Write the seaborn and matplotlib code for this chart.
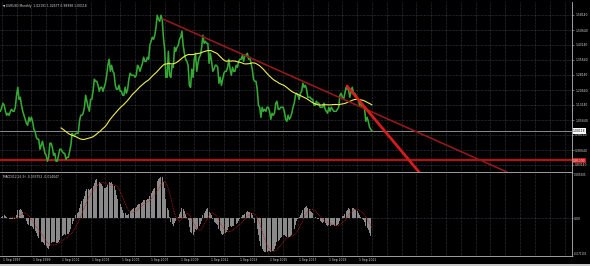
import numpy as np
import pandas as pd
import matplotlib
matplotlib.use("Agg")
import matplotlib.pyplot as plt
import matplotlib.transforms as mtransforms
from matplotlib.patches import Rectangle
import seaborn as sns

# ---------------- data (monthly closes, EURUSD) ----------------
start_month = "1997-08"
close = [
    1.10, 1.12, 1.14, 1.13, 1.10,
    1.08, 1.09, 1.08, 1.10, 1.11, 1.10, 1.10, 1.12, 1.18, 1.22, 1.16, 1.17,
    1.13, 1.10, 1.08, 1.06, 1.04, 1.03, 1.07, 1.05, 1.07, 1.05, 1.01, 1.00,
    0.97, 0.96, 0.96, 0.91, 0.93, 0.95, 0.92, 0.89, 0.88, 0.85, 0.87, 0.94,
    0.94, 0.92, 0.88, 0.89, 0.85, 0.85, 0.88, 0.91, 0.91, 0.90, 0.89, 0.89,
    0.86, 0.87, 0.87, 0.90, 0.93, 0.99, 0.98, 0.98, 0.99, 0.99, 0.99, 1.05,
    1.08, 1.08, 1.09, 1.12, 1.18, 1.15, 1.12, 1.10, 1.16, 1.16, 1.20, 1.26,
    1.25, 1.25, 1.23, 1.20, 1.22, 1.22, 1.20, 1.22, 1.24, 1.28, 1.33, 1.36,
    1.30, 1.33, 1.30, 1.29, 1.23, 1.21, 1.21, 1.23, 1.20, 1.20, 1.18, 1.18,
    1.22, 1.19, 1.21, 1.26, 1.29, 1.28, 1.28, 1.28, 1.27, 1.28, 1.33, 1.32,
    1.30, 1.32, 1.34, 1.37, 1.35, 1.35, 1.37, 1.36, 1.43, 1.45, 1.47, 1.46,
    1.48, 1.52, 1.58, 1.56, 1.55, 1.58, 1.56, 1.47, 1.41, 1.27, 1.27, 1.40,
    1.28, 1.27, 1.33, 1.32, 1.42, 1.40, 1.42, 1.43, 1.46, 1.47, 1.50, 1.43,
    1.39, 1.36, 1.35, 1.33, 1.23, 1.22, 1.31, 1.27, 1.36, 1.39, 1.30, 1.34,
    1.37, 1.38, 1.42, 1.48, 1.44, 1.45, 1.44, 1.44, 1.34, 1.39, 1.35, 1.30,
    1.31, 1.33, 1.33, 1.32, 1.24, 1.27, 1.23, 1.26, 1.29, 1.30, 1.30, 1.32,
    1.36, 1.31, 1.28, 1.32, 1.30, 1.30, 1.33, 1.32, 1.35, 1.36, 1.36, 1.38,
    1.35, 1.38, 1.38, 1.39, 1.36, 1.37, 1.34, 1.31, 1.26, 1.25, 1.25, 1.21,
    1.13, 1.12, 1.07, 1.12, 1.10, 1.11, 1.10, 1.12, 1.12, 1.10, 1.06, 1.09,
    1.08, 1.09, 1.14, 1.15, 1.11, 1.11, 1.12, 1.12, 1.12, 1.10, 1.06, 1.05,
    1.08, 1.06, 1.07, 1.09, 1.12, 1.14, 1.18, 1.19, 1.18, 1.16, 1.19, 1.20,
    1.24, 1.22, 1.23, 1.21, 1.17, 1.17, 1.17, 1.16, 1.16, 1.13, 1.13, 1.15,
    1.14, 1.14, 1.12, 1.12, 1.12, 1.14, 1.11, 1.10, 1.09, 1.12, 1.10, 1.12,
    1.11, 1.10, 1.10, 1.10, 1.11, 1.12, 1.18, 1.19, 1.17, 1.16, 1.19, 1.22,
    1.21, 1.21, 1.17, 1.20, 1.22, 1.19, 1.19, 1.18, 1.16, 1.16, 1.13, 1.14,
    1.12, 1.12, 1.11, 1.05, 1.07, 1.05, 1.02, 1.01, 1.00118,
]
ma_period = 50
macd_fast, macd_slow, macd_sig = 12, 26, 9

# trend lines (decimal year, price) and levels
trend_main_t = [2008.55, 2031.78]
trend_main_p = [1.5614, 0.7964]
trend_steep_t = [2020.98, 2025.84]
trend_steep_p = [1.2264, 0.7964]
support_level = 0.8539
support_label = "0.85390"
bid_price = 1.00118
bid_label = "1.00118"

price_ticks = [1.58140, 1.50640, 1.43140, 1.35640, 1.28140, 1.20640,
               1.13140, 1.05640, 0.98140, 0.90640, 0.83140]
price_tick_labels = ["1.58140", "1.50640", "1.43140", "1.35640", "1.28140",
                     "1.20640", "1.13140", "1.05640", "0.98140", "0.90640",
                     "0.83140"]
macd_tick_vals = [0.085305, 0.0, -0.071105]
macd_tick_labels = ["0.085305", "0.00", "-0.071105"]
time_label_years = list(range(1997, 2022, 2))
grid_years = list(range(1997, 2037))
header = "\u25BC EURUSD,Monthly  1.02191 1.02677 0.98998 1.00118"
macd_header = "MACD(12,26,9) -0.033752 -0.014047"

# ---------------- derived series ----------------
periods = pd.period_range(start_month, periods=len(close), freq="M")
t = np.asarray(periods.year + (periods.month - 1) / 12.0, dtype=float)
s = pd.Series(close, dtype=float)
ma = s.rolling(ma_period).mean()
macd_main = s.ewm(span=macd_fast, adjust=False).mean() - s.ewm(span=macd_slow, adjust=False).mean()
macd_signal = macd_main.rolling(macd_sig).mean()
df = pd.DataFrame({"t": t, "close": close, "ma": ma, "macd": macd_main, "signal": macd_signal})

# ---------------- figure ----------------
sns.set_style("dark")
W, H = 590, 266
fig = plt.figure(figsize=(W / 100, H / 100), dpi=100, facecolor="black")
ax = fig.add_axes([0, 1 - 172 / H, 572 / W, 170 / H], facecolor="black")
axm = fig.add_axes([0, 1 - 256 / H, 572 / W, 83 / H], facecolor="black")

x0 = 2000.79 - 48 / 14.81
x1 = 2000.79 + (572 - 48) / 14.81
p_top = 1.5814 + 13 / 200
p_bot = 1.5814 - 157 / 200

grid_col = "#5c6470"
txt_col = "#d8d8d8"
fs = 2.2

for a in (ax, axm):
    a.set_xlim(x0, x1)
    for yv in grid_years:
        a.axvline(yv + 8 / 12, color=grid_col, lw=0.4, ls=(0, (1, 1.5)), zorder=0)
    for sp in a.spines.values():
        sp.set_color("#b8b8b8")
        sp.set_linewidth(0.6)
    a.spines["left"].set_visible(False)
    a.spines["top"].set_visible(False)
    a.set_xticks([])
    a.set_xlabel("")
    a.set_ylabel("")
    a.grid(False)

ax.set_ylim(p_bot, p_top)
for pv in price_ticks:
    ax.axhline(pv, color=grid_col, lw=0.4, ls=(0, (1, 1.5)), zorder=0)

# price line and moving average
sns.lineplot(data=df, x="t", y="close", ax=ax, color="#36a836", lw=1.15, zorder=3)
sns.lineplot(data=df.dropna(subset=["ma"]), x="t", y="ma", ax=ax, color="#eeee55", lw=0.8, zorder=4)

# levels and trend lines
ax.axhline(bid_price, color="#8a8a8a", lw=0.7, zorder=2)
ax.axhline(support_level, color="#b01414", lw=1.6, zorder=2)
ax.plot(trend_main_t, trend_main_p, color="#8e1a1a", lw=1.2, zorder=5)
ax.plot(trend_steep_t, trend_steep_p, color="#d41c1c", lw=2.0, zorder=5)
ax.set_xlabel("")
ax.set_ylabel("")

ax.yaxis.tick_right()
ax.set_yticks(price_ticks)
ax.set_yticklabels(price_tick_labels)
ax.tick_params(axis="y", colors="#b8b8b8", labelcolor=txt_col, labelsize=fs,
               length=1.5, width=0.4, pad=0.8)

ytr = ax.get_yaxis_transform()
ax.text(1.002, bid_price, bid_label, transform=ytr, fontsize=fs, color="black",
        va="center", ha="left", zorder=10,
        bbox=dict(facecolor="white", edgecolor="none", pad=0.4), clip_on=False)
ax.text(1.002, support_level, support_label, transform=ytr, fontsize=fs, color="white",
        va="center", ha="left", zorder=10,
        bbox=dict(facecolor="#c81818", edgecolor="none", pad=0.4), clip_on=False)

# MACD panel
ylo, yhi = macd_tick_vals[2], macd_tick_vals[0]
axm.set_ylim(ylo, yhi)
axm.axhline(0, color=grid_col, lw=0.4, ls=(0, (1, 1.5)), zorder=0)
axm.bar(df["t"], df["macd"], width=0.065, color="#8a8a8a", edgecolor="none", zorder=2)
sns.lineplot(data=df.dropna(subset=["signal"]), x="t", y="signal", ax=axm,
             color="#c02020", lw=0.6, ls=(0, (1, 1)), zorder=3)
axm.set_xlabel("")
axm.set_ylabel("")
axm.yaxis.tick_right()
axm.set_yticks(macd_tick_vals)
axm.set_yticklabels(macd_tick_labels)
axm.tick_params(axis="y", colors="#b8b8b8", labelcolor=txt_col, labelsize=fs,
                length=1.0, width=0.4, pad=0.5)
lbls = axm.get_yticklabels()
lbls[0].set_va("top")
lbls[2].set_va("bottom")
lbls[2].set_fontsize(1.9)
lbls[0].set_fontsize(2.0)

# time labels
btr = mtransforms.blended_transform_factory(axm.transData, fig.transFigure)
off = mtransforms.ScaledTranslation(1.5 / 100, 0, fig.dpi_scale_trans)
for yv in time_label_years:
    axm.text(yv + 8 / 12, 1 - 259.5 / H, f"1 Sep {yv}", transform=btr + off,
             fontsize=fs, color=txt_col, ha="left", va="center", clip_on=False)

# headers
fig.text(3 / W, 1 - 6.5 / H, header, fontsize=fs, color=txt_col, ha="left", va="center")
fig.text(3 / W, 1 - 177 / H, macd_header, fontsize=fs, color=txt_col, ha="left", va="center")

# bottom tab strip
fig.patches.append(Rectangle((0, 0), 1, 2.5 / H, transform=fig.transFigure,
                             facecolor="#c8c8c8", edgecolor="none"))

fig.savefig("out.png", dpi=100, facecolor="black")
